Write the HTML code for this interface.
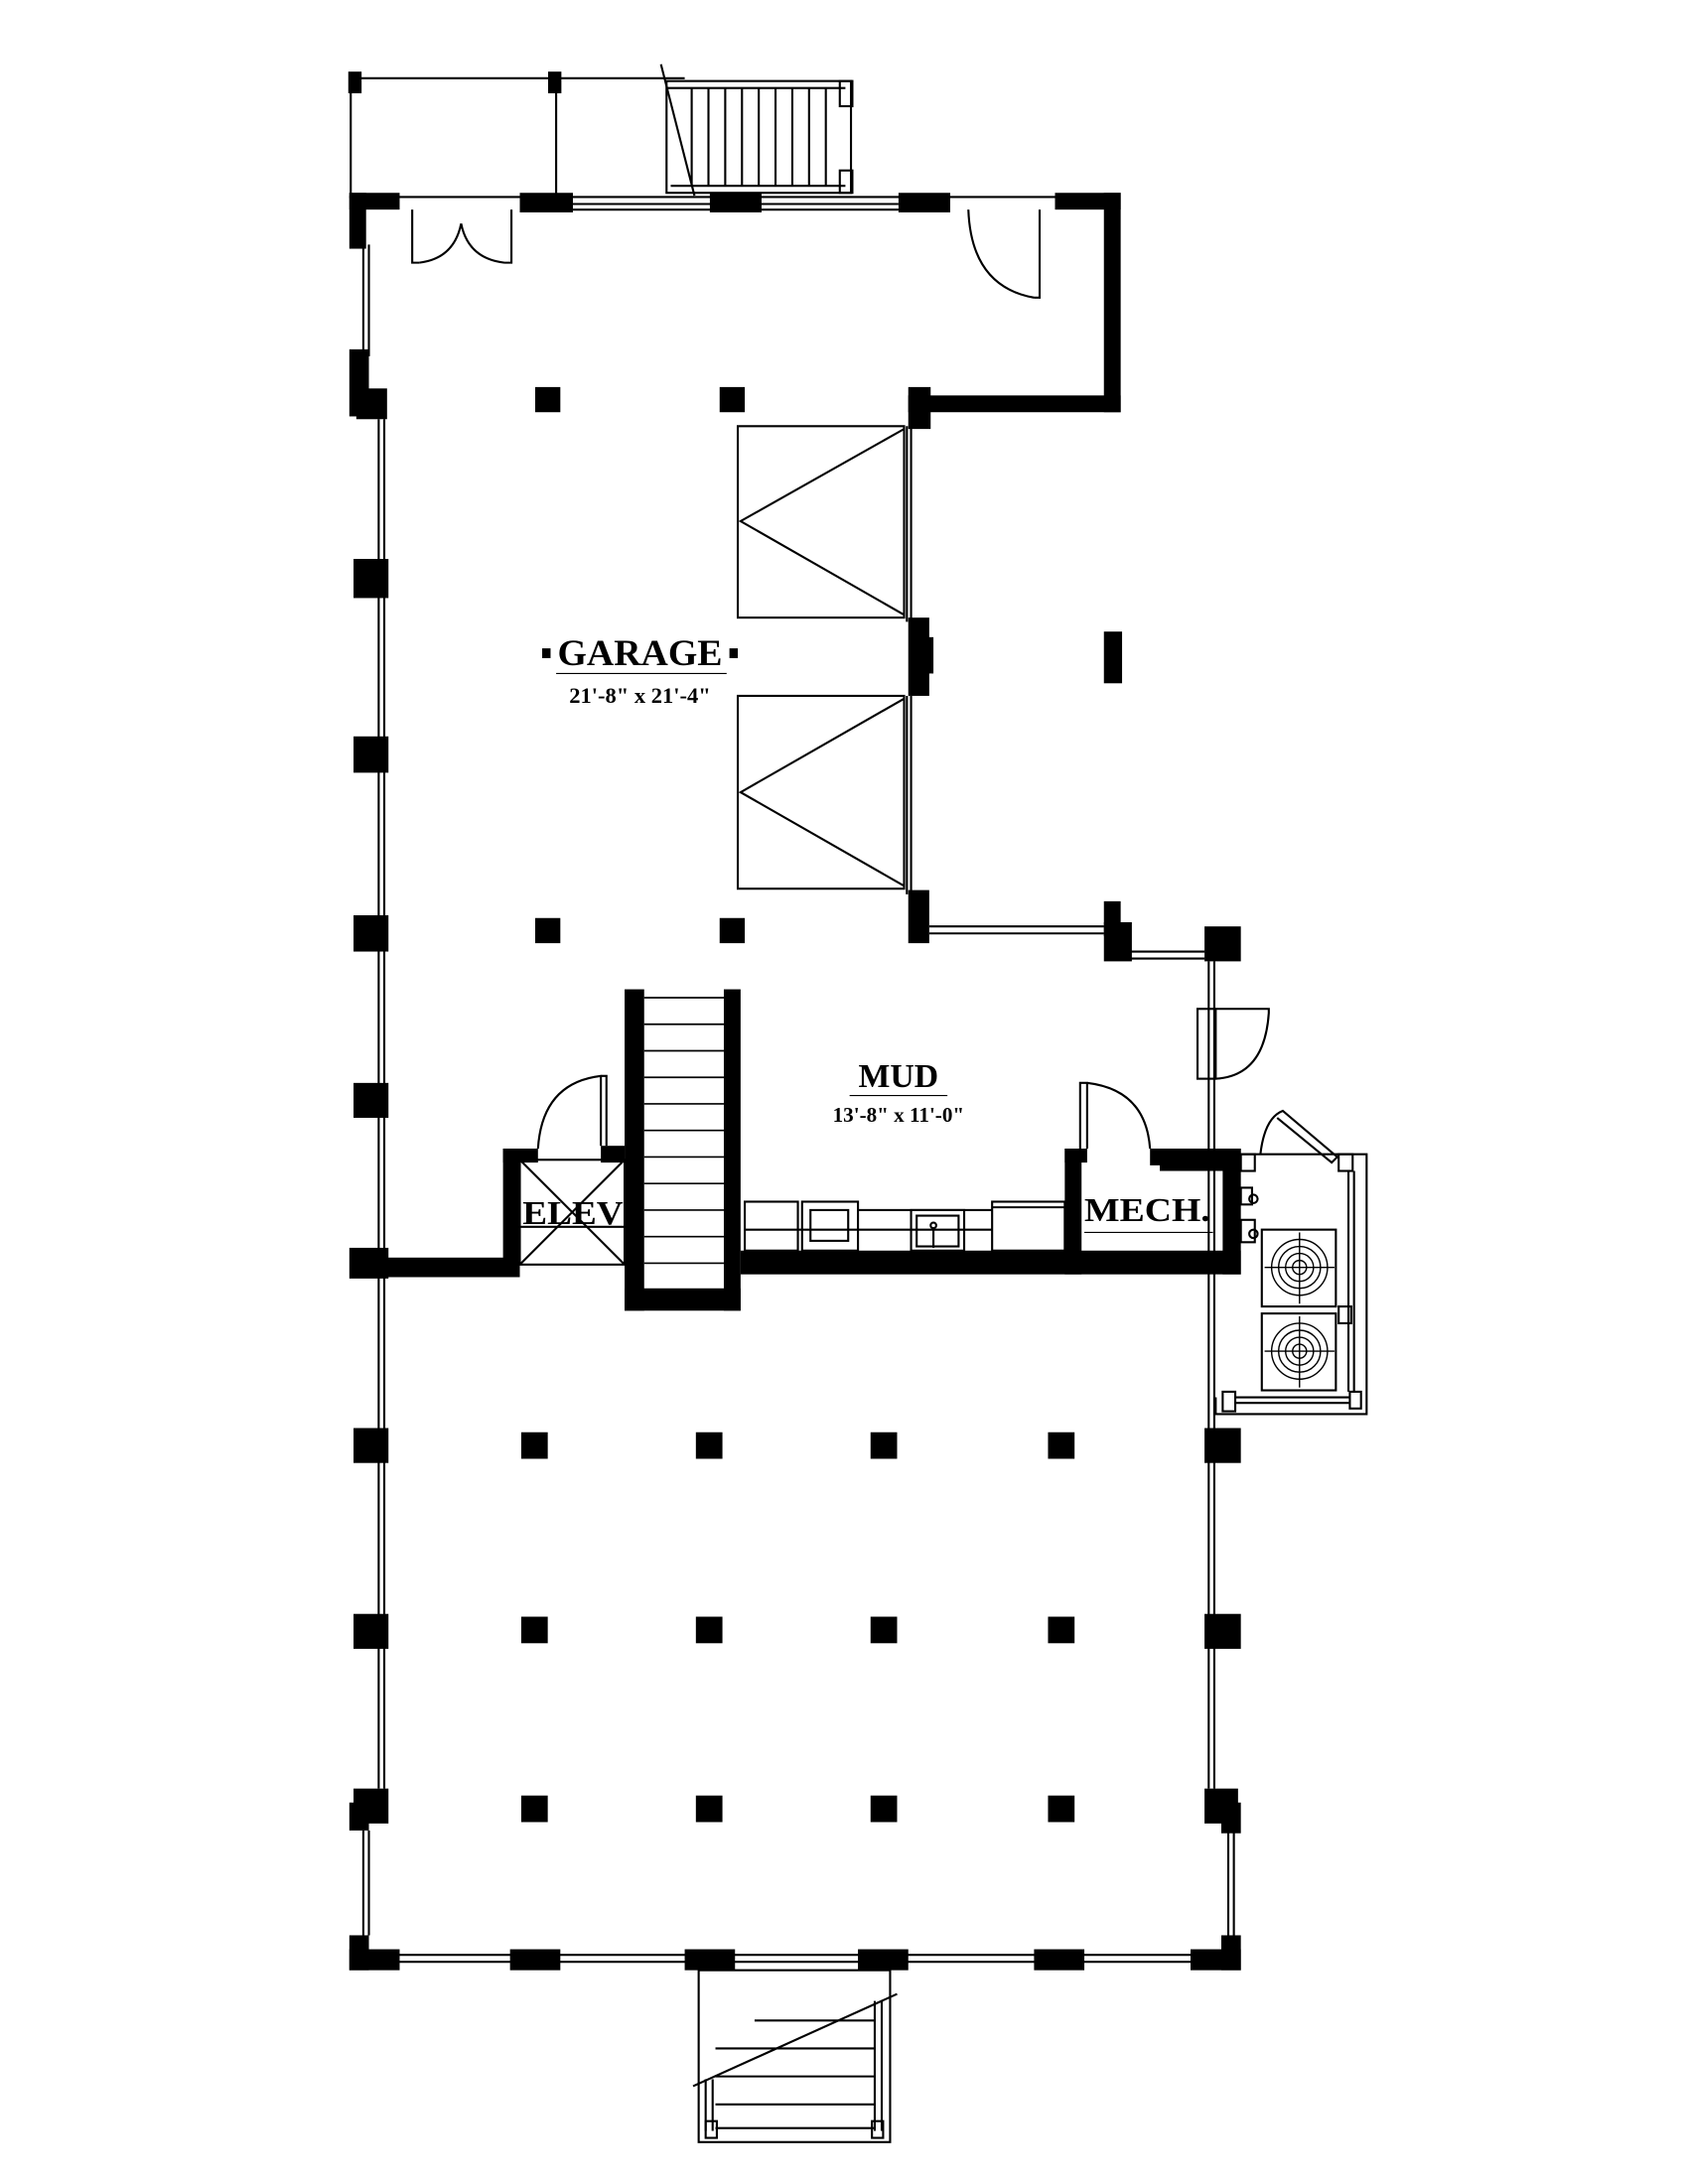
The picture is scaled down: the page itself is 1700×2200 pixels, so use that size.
<!DOCTYPE html>
<html><head><meta charset="utf-8"><style>html,body{margin:0;padding:0;background:#fff}svg{display:block}</style></head>
<body>
<svg width="1700" height="2200" viewBox="0 0 1208 1563" preserveAspectRatio="none" xmlns="http://www.w3.org/2000/svg">
<rect width="1208" height="1563" fill="#fff"/>
<g stroke="#000" fill="none" stroke-width="1.5">
<line x1="250" y1="56" x2="490" y2="56"/>
<line x1="251" y1="56" x2="251" y2="142"/>
<line x1="398" y1="56" x2="398" y2="142"/>
<rect x="250" y="52" width="8" height="14" fill="#000"/>
<rect x="393" y="52" width="8" height="14" fill="#000"/>
<line x1="473" y1="46" x2="497" y2="140"/>
<rect x="477" y="58" width="132" height="80"/>
<line x1="477" y1="63" x2="605" y2="63"/><line x1="480" y1="133" x2="605" y2="133"/>
<line x1="495" y1="63" x2="495" y2="133"/><line x1="507" y1="63" x2="507" y2="133"/><line x1="519" y1="63" x2="519" y2="133"/><line x1="531" y1="63" x2="531" y2="133"/><line x1="543" y1="63" x2="543" y2="133"/><line x1="555" y1="63" x2="555" y2="133"/><line x1="567" y1="63" x2="567" y2="133"/><line x1="579" y1="63" x2="579" y2="133"/><line x1="591" y1="63" x2="591" y2="133"/>
<rect x="601" y="58" width="9" height="18"/><rect x="601" y="122" width="9" height="16"/>
<line x1="250" y1="141" x2="800" y2="141"/>
<line x1="410" y1="146" x2="510" y2="146"/><line x1="410" y1="150" x2="510" y2="150"/>
<line x1="545" y1="146" x2="643" y2="146"/><line x1="545" y1="150" x2="643" y2="150"/>
<path d="M295 150 V188 H300 M366 150 V188 H361"/>
<path d="M330 160 Q325 185 300 188 M330 160 Q335 185 361 188"/>
<path d="M693 150 Q695 205 740 213 M744 150 V213 H740"/>
<rect x="528" y="305" width="119" height="137"/>
<path d="M647 307 L530 373 L647 440"/>
<rect x="528" y="498" width="119" height="138"/>
<path d="M647 500 L530 567 L647 634"/>
<line x1="649" y1="305" x2="649" y2="445"/><line x1="652" y1="305" x2="652" y2="445"/>
<line x1="649" y1="498" x2="649" y2="640"/><line x1="652" y1="498" x2="652" y2="640"/>
<line x1="665" y1="663" x2="790" y2="663"/><line x1="665" y1="668" x2="790" y2="668"/>
<line x1="808" y1="681" x2="862" y2="681"/><line x1="808" y1="686" x2="862" y2="686"/>
<line x1="260" y1="175" x2="260" y2="255"/><line x1="264" y1="175" x2="264" y2="255"/>
<line x1="271" y1="300" x2="271" y2="1280"/><line x1="275" y1="300" x2="275" y2="1280"/>
<line x1="260" y1="1310" x2="260" y2="1385"/><line x1="264" y1="1310" x2="264" y2="1385"/>
<line x1="879" y1="1310" x2="879" y2="1385"/><line x1="883" y1="1310" x2="883" y2="1385"/>
<line x1="865" y1="688" x2="865" y2="1280"/><line x1="869" y1="688" x2="869" y2="1280"/>
<line x1="285" y1="1399" x2="870" y2="1399"/><line x1="285" y1="1404" x2="870" y2="1404"/>
<rect x="500" y="1410" width="137" height="123"/>
<line x1="496" y1="1493" x2="642" y2="1427"/>
<line x1="505" y1="1488" x2="505" y2="1525"/><line x1="510" y1="1488" x2="510" y2="1525"/>
<line x1="626" y1="1432" x2="626" y2="1525"/><line x1="631" y1="1432" x2="631" y2="1525"/>
<line x1="540" y1="1446" x2="626" y2="1446"/><line x1="512" y1="1466" x2="626" y2="1466"/><line x1="512" y1="1486" x2="626" y2="1486"/><line x1="512" y1="1506" x2="626" y2="1506"/><line x1="512" y1="1523" x2="626" y2="1523"/>
<rect x="505" y="1518" width="8" height="12"/><rect x="624" y="1518" width="8" height="12"/>
<line x1="372" y1="830" x2="447" y2="905"/><line x1="447" y1="830" x2="372" y2="905"/>
<rect x="372" y="830" width="75" height="75"/>
<line x1="372" y1="878" x2="447" y2="878"/>
<path d="M385 822 Q388 775 430 770 V820 M430 770 H434 V820"/>
<g stroke-width="1.2">
<line x1="461" y1="714" x2="518" y2="714"/><line x1="461" y1="733" x2="518" y2="733"/><line x1="461" y1="752" x2="518" y2="752"/><line x1="461" y1="771" x2="518" y2="771"/><line x1="461" y1="790" x2="518" y2="790"/><line x1="461" y1="809" x2="518" y2="809"/><line x1="461" y1="828" x2="518" y2="828"/><line x1="461" y1="847" x2="518" y2="847"/><line x1="461" y1="866" x2="518" y2="866"/><line x1="461" y1="885" x2="518" y2="885"/><line x1="461" y1="904" x2="518" y2="904"/>
</g>
<rect x="533" y="860" width="38" height="35"/>
<rect x="574" y="860" width="40" height="35"/><rect x="580" y="866" width="27" height="22"/>
<line x1="614" y1="866" x2="710" y2="866"/><line x1="533" y1="880" x2="710" y2="880"/>
<rect x="652" y="866" width="38" height="29"/><rect x="656" y="870" width="30" height="22"/>
<circle cx="668" cy="877" r="2"/><line x1="668" y1="879" x2="668" y2="893"/>
<rect x="710" y="860" width="52" height="35"/><line x1="710" y1="864" x2="762" y2="864"/>
<path d="M773 822 V775 H778 V822 M778 775 Q820 780 823 822"/>
<rect x="857" y="722" width="13" height="50"/>
<path d="M870 722 H908 V725 M870 772 Q905 770 908 725"/>
<path d="M888 826 H978 V1012 H870 V1000"/>
<path d="M902 826 Q905 800 918 795 L957 828 L953 832 L914 800"/>
<rect x="888" y="826" width="10" height="12"/><rect x="888" y="873" width="10" height="16"/><rect x="888" y="850" width="8" height="12"/>
<circle cx="897" cy="858" r="3"/><circle cx="897" cy="883" r="3"/>
<rect x="958" y="826" width="10" height="12"/><rect x="958" y="935" width="9" height="12"/><rect x="966" y="996" width="8" height="12"/>
<line x1="965" y1="838" x2="965" y2="996"/><line x1="969" y1="838" x2="969" y2="996"/>
<rect x="875" y="996" width="9" height="14"/>
<line x1="884" y1="1000" x2="966" y2="1000"/><line x1="884" y1="1004" x2="966" y2="1004"/>
<rect x="903" y="880" width="53" height="55"/><rect x="903" y="940" width="53" height="55"/>
<g stroke-width="1">
<circle cx="930" cy="907" r="20"/><circle cx="930" cy="907" r="15"/><circle cx="930" cy="907" r="10"/><circle cx="930" cy="907" r="5"/>
<line x1="905" y1="907" x2="955" y2="907"/><line x1="930" y1="882" x2="930" y2="933"/>
<circle cx="930" cy="967" r="20"/><circle cx="930" cy="967" r="15"/><circle cx="930" cy="967" r="10"/><circle cx="930" cy="967" r="5"/>
<line x1="905" y1="967" x2="955" y2="967"/><line x1="930" y1="942" x2="930" y2="993"/>
</g>
</g>
<g fill="#000">
<rect x="250" y="138" width="36" height="12"/><rect x="250" y="138" width="12" height="40"/>
<rect x="372" y="138" width="38" height="14"/><rect x="508" y="138" width="37" height="14"/><rect x="643" y="138" width="37" height="14"/>
<rect x="755" y="138" width="47" height="12"/><rect x="790" y="138" width="12" height="157"/>
<rect x="650" y="283" width="152" height="12"/><rect x="650" y="277" width="16" height="30"/>
<rect x="650" y="442" width="15" height="56"/><rect x="658" y="456" width="10" height="26"/>
<rect x="650" y="637" width="15" height="38"/>
<rect x="790" y="645" width="12" height="25"/><rect x="790" y="660" width="20" height="28"/>
<rect x="862" y="663" width="26" height="25"/>
<rect x="790" y="452" width="13" height="37"/>
<rect x="250" y="250" width="14" height="48"/><rect x="255" y="278" width="22" height="22"/>
<rect x="253" y="400" width="25" height="28"/><rect x="253" y="527" width="25" height="26"/><rect x="253" y="655" width="25" height="26"/><rect x="253" y="775" width="25" height="25"/>
<rect x="250" y="893" width="28" height="22"/>
<rect x="253" y="1022" width="25" height="25"/><rect x="253" y="1155" width="25" height="25"/>
<rect x="253" y="1280" width="25" height="25"/><rect x="250" y="1290" width="14" height="20"/>
<rect x="250" y="1385" width="14" height="25"/><rect x="250" y="1395" width="36" height="15"/>
<rect x="365" y="1395" width="36" height="15"/><rect x="490" y="1395" width="36" height="15"/><rect x="614" y="1395" width="36" height="15"/><rect x="740" y="1395" width="36" height="15"/><rect x="852" y="1395" width="36" height="15"/><rect x="874" y="1385" width="14" height="25"/>
<rect x="862" y="1022" width="26" height="25"/><rect x="862" y="1155" width="26" height="25"/><rect x="862" y="1280" width="24" height="25"/><rect x="874" y="1290" width="14" height="22"/>
<rect x="383" y="277" width="18" height="18"/><rect x="515" y="277" width="18" height="18"/>
<rect x="383" y="657" width="18" height="18"/><rect x="515" y="657" width="18" height="18"/>
<rect x="373" y="1025" width="19" height="19"/><rect x="498" y="1025" width="19" height="19"/><rect x="623" y="1025" width="19" height="19"/><rect x="750" y="1025" width="19" height="19"/>
<rect x="373" y="1157" width="19" height="19"/><rect x="498" y="1157" width="19" height="19"/><rect x="623" y="1157" width="19" height="19"/><rect x="750" y="1157" width="19" height="19"/>
<rect x="373" y="1285" width="19" height="19"/><rect x="498" y="1285" width="19" height="19"/><rect x="623" y="1285" width="19" height="19"/><rect x="750" y="1285" width="19" height="19"/>
<rect x="262" y="900" width="110" height="14"/>
<rect x="360" y="822" width="12" height="92"/><rect x="360" y="822" width="25" height="10"/><rect x="430" y="820" width="17" height="12"/>
<rect x="447" y="708" width="14" height="230"/><rect x="518" y="708" width="12" height="230"/><rect x="447" y="922" width="83" height="16"/>
<rect x="530" y="895" width="358" height="17"/>
<rect x="762" y="822" width="12" height="90"/><rect x="762" y="822" width="16" height="10"/>
<rect x="823" y="822" width="65" height="12"/><rect x="830" y="822" width="50" height="16"/>
<rect x="875" y="822" width="13" height="90"/>
<rect x="388" y="464" width="6" height="7"/><rect x="522" y="464" width="6" height="7"/>
</g>
<g fill="#000" font-family="Liberation Serif, serif" text-anchor="middle">
<text x="458" y="476" font-size="26" font-weight="bold" textLength="118" lengthAdjust="spacingAndGlyphs">GARAGE</text>
<line x1="398" y1="482" x2="520" y2="482" stroke="#000" stroke-width="0.8"/>
<text x="458" y="503" font-size="16" font-weight="bold">21'-8" x 21'-4"</text>
<text x="643" y="778" font-size="24" font-weight="bold">MUD</text>
<line x1="608" y1="784" x2="678" y2="784" stroke="#000" stroke-width="0.8"/>
<text x="643" y="803" font-size="15" font-weight="bold">13'-8" x 11'-0"</text>
<text x="410" y="876" font-size="24" font-weight="bold" textLength="72" lengthAdjust="spacingAndGlyphs">ELEV</text>
<text x="821" y="874" font-size="24" font-weight="bold" textLength="90" lengthAdjust="spacingAndGlyphs">MECH.</text>
<line x1="776" y1="882" x2="868" y2="882" stroke="#000" stroke-width="0.8"/>
</g>
</svg>
</body></html>
